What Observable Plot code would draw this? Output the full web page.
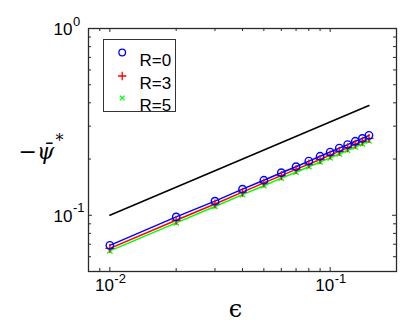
<!DOCTYPE html>
<html><head><meta charset="utf-8">
<script src="https://cdn.jsdelivr.net/npm/d3@7"></script>
<script src="https://cdn.jsdelivr.net/npm/@observablehq/plot@0.6"></script>
<style>html,body{margin:0;padding:0;background:#fff}#chart svg{display:block}</style>
</head><body><div id="chart"></div>
<script>
// ---- data ----
const epsilon = [0.01,0.02,0.03,0.04,0.05,0.06,0.07,0.08,0.09,0.10,0.11,0.12,0.13,0.14,0.15];
const psiR0 = [0.069,0.098,0.119,0.138,0.154,0.169,0.182,0.195,0.207,0.218,0.229,0.239,0.249,0.258,0.268];
const psiR3 = [0.0665,0.094,0.115,0.133,0.149,0.163,0.176,0.188,0.199,0.210,0.220,0.230,0.240,0.249,0.258];
const psiR5 = [0.0645,0.091,0.1115,0.129,0.144,0.158,0.170,0.182,0.193,0.203,0.213,0.223,0.232,0.241,0.250];
const refEps = [0.01, 0.15];
const refPsi = [0.10, 0.387];
const seriesNames = ["R=0","R=3","R=5"];

const xMajor = [0.01, 0.1];
const xMajorExp = ["-2","-1"];
const xMinor = [0.009,0.02,0.03,0.04,0.05,0.06,0.07,0.08,0.09];
const yMajor = [1, 0.1];
const yMajorExp = ["0","-1"];
const yMinor = [0.06,0.07,0.08,0.09,0.2,0.3,0.4,0.5,0.6,0.7,0.8,0.9];

// ---- tables ----
const toRows = (ys) => epsilon.map((e,i)=>({e, p: ys[i]}));
const r0 = toRows(psiR0), r3 = toRows(psiR3), r5 = toRows(psiR5);
const ref = refEps.map((e,i)=>({e, p: refPsi[i]}));
const xMaj = xMajor.map((v,i)=>({v, e: xMajorExp[i]}));
const yMaj = yMajor.map((v,i)=>({v, e: yMajorExp[i]}));

const W = 415, H = 327, mL = 88, mR = 19, mT = 28, mB = 56;
const iH = H - mT - mB;
const axisColor = "#2a2a2a";
const blue = "#0000ff", red = "#ff0000", green = "#00ff00";

const chart = Plot.plot({
  width: W, height: H,
  marginLeft: mL, marginRight: mR, marginTop: mT, marginBottom: mB,
  style: {fontFamily: "'Liberation Sans', Arial, sans-serif", background: "white", color: "black"},
  x: {type: "log", domain: [0.008, 0.2], axis: null},
  y: {type: "log", domain: [0.05, 1], axis: null},
  marks: [
    // inward ticks, all four sides
    Plot.ruleX(xMinor, {x: d=>d, insetTop: iH-3, stroke: axisColor}),
    Plot.ruleX(xMinor, {x: d=>d, insetBottom: iH-3, stroke: axisColor}),
    Plot.ruleX(xMajor, {x: d=>d, insetTop: iH-4, stroke: axisColor}),
    Plot.ruleX(xMajor, {x: d=>d, insetBottom: iH-4, stroke: axisColor}),
    Plot.ruleY(yMinor, {y: d=>d, insetRight: (W-mL-mR)-3, stroke: axisColor}),
    Plot.ruleY(yMinor, {y: d=>d, insetLeft: (W-mL-mR)-3, stroke: axisColor}),
    Plot.ruleY([0.1], {y: d=>d, insetRight: (W-mL-mR)-4, stroke: axisColor}),
    Plot.ruleY([0.1], {y: d=>d, insetLeft: (W-mL-mR)-4, stroke: axisColor}),
    // tick labels
    Plot.text(xMaj, {x: "v", text: ()=>"10", frameAnchor: "bottom", textAnchor: "end", dx: 4, dy: 19, fontSize: 17, fill: "black"}),
    Plot.text(xMaj, {x: "v", text: "e", frameAnchor: "bottom", textAnchor: "start", dx: 4.5, dy: 11, fontSize: 13, fill: "black"}),
    Plot.text(yMaj, {y: "v", text: ()=>"10", frameAnchor: "left", textAnchor: "end", dx: -16, dy: 1, fontSize: 17, fill: "black"}),
    Plot.text(yMaj, {y: "v", text: "e", frameAnchor: "left", textAnchor: "start", dx: -15.5, dy: -7, fontSize: 13, fill: "black"}),
    // axis labels
    Plot.text(["\u2212\u03C8\u0304"], {x: null, y: null, text: d=>d, frameAnchor: "left", textAnchor: "start", dx: -70, dy: 2, fontSize: 22, fontFamily: "'DejaVu Serif', serif", fontStyle: "italic", fill: "black"}),
    Plot.text(["*"], {x: null, y: null, text: d=>d, frameAnchor: "left", textAnchor: "start", dx: -33, dy: -9, fontSize: 16, fontFamily: "'DejaVu Serif', serif", fill: "black"}),
    Plot.text(["\u03F5"], {x: null, y: null, text: d=>d, frameAnchor: "bottom", dx: -7, dy: 45, fontSize: 24, fontFamily: "'DejaVu Serif', serif", fill: "black"}),
    // data
    Plot.line(ref, {x: "e", y: "p", stroke: "black", strokeWidth: 1.5}),
    Plot.line(r5, {x: "e", y: "p", stroke: green, strokeWidth: 1.5}),
    Plot.line(r3, {x: "e", y: "p", stroke: red, strokeWidth: 1.5}),
    Plot.line(r0, {x: "e", y: "p", stroke: blue, strokeWidth: 1.5}),
    Plot.dot(r5, {x: "e", y: "p", symbol: "times", r: 2.5, stroke: green, strokeWidth: 1.3}),
    Plot.dot(r3, {x: "e", y: "p", symbol: "plus", r: 3, stroke: red, strokeWidth: 1.3}),
    Plot.dot(r0, {x: "e", y: "p", symbol: "circle", r: 3.7, stroke: blue, strokeWidth: 1.4}),
    // frame
    Plot.frame({stroke: axisColor, strokeWidth: 1.3}),
    // legend
    Plot.frame({stroke: "#333", strokeWidth: 1, fill: "white", insetLeft: 15, insetRight: 221, insetTop: 11, insetBottom: 160}),
    Plot.dot([seriesNames[0]], {x: null, y: null, frameAnchor: "top-left", dx: 33.7, dy: 24, symbol: "circle", r: 3.3, stroke: blue, strokeWidth: 1.3}),
    Plot.dot([seriesNames[1]], {x: null, y: null, frameAnchor: "top-left", dx: 33.7, dy: 47.5, symbol: "plus", r: 2.8, stroke: red, strokeWidth: 1.3}),
    Plot.dot([seriesNames[2]], {x: null, y: null, frameAnchor: "top-left", dx: 33.7, dy: 69.5, symbol: "times", r: 2.3, stroke: green, strokeWidth: 1.3}),
    Plot.text(seriesNames.slice(0,1), {text: d=>d, frameAnchor: "top-left", textAnchor: "start", dx: 51, dy: 25, fontSize: 17, fill: "black"}),
    Plot.text(seriesNames.slice(1,2), {text: d=>d, frameAnchor: "top-left", textAnchor: "start", dx: 51, dy: 48, fontSize: 17, fill: "black"}),
    Plot.text(seriesNames.slice(2,3), {text: d=>d, frameAnchor: "top-left", textAnchor: "start", dx: 51, dy: 70.5, fontSize: 17, fill: "black"})
  ]
});
document.getElementById("chart").appendChild(chart);
</script>
</body></html>
